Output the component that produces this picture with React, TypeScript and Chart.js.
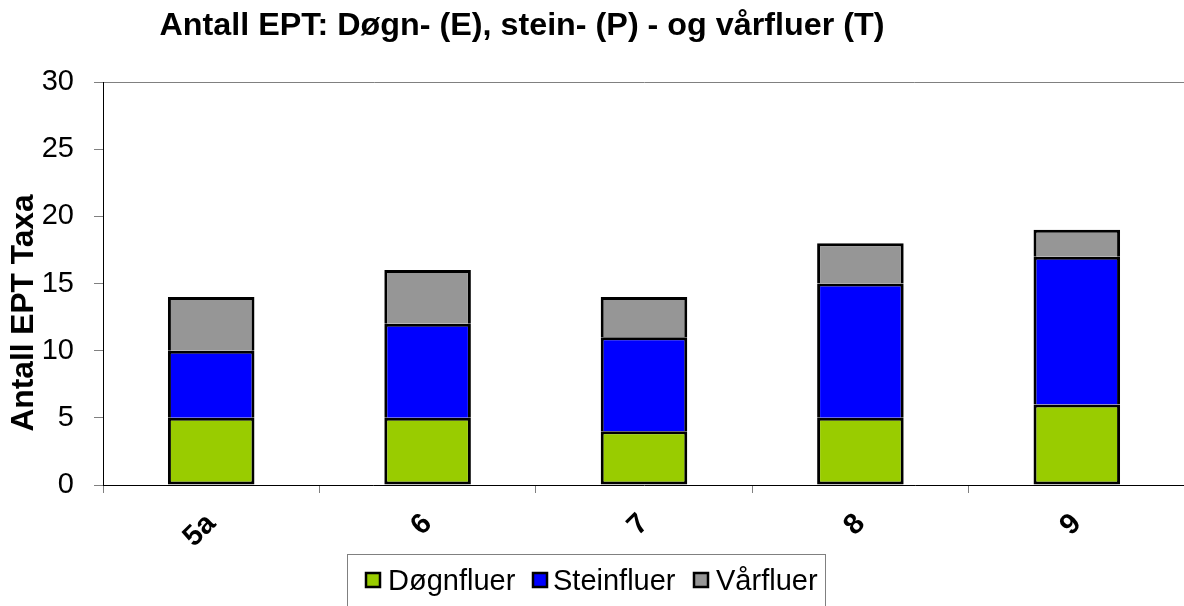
import React, { useEffect, useRef } from "react";
import { Chart, registerables } from "chart.js";

Chart.register(...registerables);

const categories = ["5a", "6", "7", "8", "9"];
const dognfluer = [5, 5, 4, 5, 6];
const steinfluer = [5, 7, 7, 10, 11];
const varfluer = [4, 4, 3, 3, 2];
const seriesNames = ["Døgnfluer", "Steinfluer", "Vårfluer"];
const seriesColors = ["#99CC00", "#0000FF", "#969696"];
const titleText = "Antall EPT: Døgn- (E), stein- (P) - og vårfluer (T)";
const yTitleText = "Antall EPT Taxa";
const yTicks = { min: 0, max: 30, step: 5 };

const FONT = '"Liberation Sans", Arial, sans-serif';

const decorPlugin = {
  id: "decor",
  afterDraw(chart: any) {
    const ctx = chart.ctx as CanvasRenderingContext2D;
    ctx.save();
    // Title
    ctx.fillStyle = "#000";
    ctx.font = `bold 31px ${FONT}`;
    ctx.textAlign = "center";
    ctx.textBaseline = "middle";
    const tw = ctx.measureText(titleText).width;
    ctx.save();
    ctx.translate(522, 26);
    ctx.scale(725 / tw, 1);
    ctx.fillText(titleText, 0, 0);
    ctx.restore();

    // Y title
    ctx.font = `bold 31px ${FONT}`;
    const yw = ctx.measureText(yTitleText).width;
    ctx.save();
    ctx.translate(24, 313);
    ctx.rotate(-Math.PI / 2);
    ctx.scale(237 / yw, 1);
    ctx.fillText(yTitleText, 0, 0);
    ctx.restore();

    // Legend box
    ctx.strokeStyle = "#808080";
    ctx.lineWidth = 1;
    ctx.strokeRect(347.5, 554.5, 478, 70);
    const boxX = [365, 532, 693];
    const textX = [388, 553, 716];
    ctx.font = `29px ${FONT}`;
    ctx.textAlign = "left";
    ctx.textBaseline = "alphabetic";
    for (let i = 0; i < seriesNames.length; i++) {
      ctx.fillStyle = seriesColors[i];
      ctx.fillRect(boxX[i] + 1, 573, 14, 14);
      ctx.strokeStyle = "#000";
      ctx.lineWidth = 2.5;
      ctx.strokeRect(boxX[i] + 1, 573, 14, 14);
      ctx.fillStyle = "#000";
      ctx.fillText(seriesNames[i], textX[i], 590);
    }
    ctx.restore();
  },
};

export default function App() {
  const ref = useRef<HTMLCanvasElement | null>(null);
  useEffect(() => {
    if (!ref.current) return;
    const chart = new Chart(ref.current, {
      type: "bar",
      data: {
        labels: categories,
        datasets: [
          {
            label: seriesNames[0],
            data: dognfluer,
            backgroundColor: seriesColors[0],
            borderColor: "#000",
            borderWidth: 3,
            borderSkipped: false,
          },
          {
            label: seriesNames[1],
            data: steinfluer,
            backgroundColor: seriesColors[1],
            borderColor: "#000",
            borderWidth: 3,
          },
          {
            label: seriesNames[2],
            data: varfluer,
            backgroundColor: seriesColors[2],
            borderColor: "#000",
            borderWidth: 3,
          },
        ],
      },
      options: {
        responsive: false,
        animation: false,
        layout: { padding: { left: 0, top: 82, right: 5, bottom: 0 } },
        datasets: { bar: { barPercentage: 0.4, categoryPercentage: 1 } },
        plugins: {
          legend: { display: false },
          title: { display: false },
          tooltip: { enabled: false },
        },
        scales: {
          x: {
            stacked: true,
            border: { color: "#000", width: 1 },
            grid: {
              offset: true,
              drawOnChartArea: false,
              drawTicks: true,
              tickLength: 8,
              tickColor: "#808080",
            },
            ticks: {
              color: "#000",
              font: { family: FONT, size: 29, weight: "bold" },
              maxRotation: 45,
              minRotation: 45,
              padding: 14,
            },
            afterFit: (s: any) => {
              s.height = 121;
            },
          },
          y: {
            stacked: true,
            min: yTicks.min,
            max: yTicks.max,
            border: { color: "#000", width: 1 },
            grid: {
              color: (c: any) => (c.tick && c.tick.value === 30 ? "#808080" : "rgba(0,0,0,0)"),
              tickColor: "#808080",
              tickLength: 9,
              lineWidth: 1,
            },
            ticks: {
              stepSize: yTicks.step,
              color: "#000",
              font: { family: FONT, size: 29 },
              padding: 20,
            },
            afterFit: (s: any) => {
              s.width = 103;
            },
          },
        },
      },
      plugins: [decorPlugin],
    });
    return () => chart.destroy();
  }, []);
  return (
    <div
      style={{
        position: "fixed",
        left: 0,
        top: 0,
        width: 1184,
        height: 606,
        overflow: "hidden",
        background: "#fff",
      }}
    >
      <canvas ref={ref} width={1190} height={606} style={{ display: "block" }} />
    </div>
  );
}
